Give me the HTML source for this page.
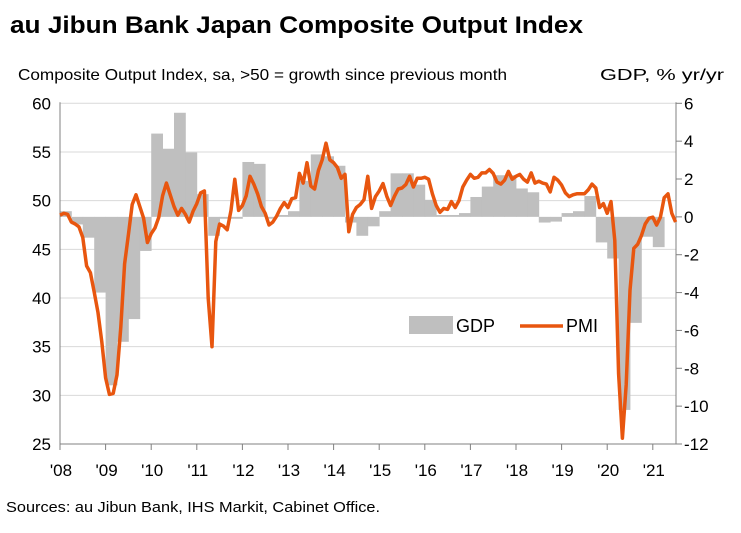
<!DOCTYPE html>
<html><head><meta charset="utf-8"><style>
body{margin:0;background:#fff;width:741px;height:528px;overflow:hidden;font-family:"Liberation Sans",sans-serif}
</style></head><body>
<svg id="c" width="741" height="528" xmlns="http://www.w3.org/2000/svg">
<text x="10" y="33" font-size="24" font-weight="bold" fill="#000" textLength="573" lengthAdjust="spacingAndGlyphs">au Jibun Bank Japan Composite Output Index</text>
<text x="18" y="80" font-size="16" fill="#000" textLength="489" lengthAdjust="spacingAndGlyphs">Composite Output Index, sa, &gt;50 = growth since previous month</text>
<text x="600" y="80" font-size="16" fill="#000" textLength="124" lengthAdjust="spacingAndGlyphs">GDP, % yr/yr</text>
<text x="6" y="512" font-size="15" fill="#000" textLength="374" lengthAdjust="spacingAndGlyphs">Sources: au Jibun Bank, IHS Markit, Cabinet Office.</text>
<g id="grid"></g><g id="bars"></g><g id="axes"></g>
<path id="pmi" fill="none" stroke="#e8560f" stroke-width="3.5" stroke-linejoin="round"></path>
<rect x="409" y="316" width="44" height="18" fill="#bfbfbf"></rect>
<text x="456" y="332" font-size="18">GDP</text>
<line x1="520" y1="326" x2="563" y2="326" stroke="#e8560f" stroke-width="3.5"></line>
<text x="566" y="332" font-size="18">PMI</text>
</svg>
<script>
const leftTicks=[60,55,50,45,40,35,30,25];
const rightTicks=[6,4,2,0,-2,-4,-6,-8,-10,-12];
const yearLabels=["'08","'09","'10","'11","'12","'13","'14","'15","'16","'17","'18","'19","'20","'21"];
const gdp=[0.3,-0.4,-1.1,-4,-8.9,-6.6,-5.4,-1.8,4.4,3.6,5.5,3.4,1.2,-1.0,-0.1,-0.1,2.9,2.8,-0.1,0.1,0.3,1.9,3.3,3.2,2.7,-0.3,-1.0,-0.5,0.3,2.3,2.3,1.7,0.9,0.1,0.1,0.2,1.05,1.6,2.2,2.2,1.5,1.3,-0.3,-0.25,0.2,0.3,1.1,-1.35,-2.2,-10.2,-5.6,-1.05,-1.6];
const pmi=[48.5,48.7,48.6,47.8,47.6,47.3,46.2,43.3,42.6,40.6,38.5,35.5,
31.8,30.1,30.2,32.1,37,43.5,46.5,49.6,50.6,49.4,48.2,45.7,
46.6,47.2,48.3,50.5,51.8,50.6,49.4,48.5,49.2,48.6,47.8,48.9,
49.7,50.8,51,40,35,45.8,47.6,47.4,47,49,52.2,49,
49.5,50.5,52.5,51.7,50.7,49.4,48.7,47.5,47.8,48.4,49.2,49.8,
49.3,50.2,50.3,52.8,51.8,53.9,51.5,51.2,53.1,54.2,55.9,54.2,
53.9,53.4,52.3,52.7,46.8,48.6,49.3,49.6,50.1,52.5,49.2,50.4,
51,51.75,50.45,49.5,50.45,51.2,51.3,51.65,52.5,51.4,52.3,52.3,
52.4,52.2,50.7,49.5,48.8,49.2,49.1,49.9,49.3,50,51.4,52.1,
52.7,52.3,52.4,52.85,52.85,53.2,52.8,51.9,51.7,52.1,53,52.2,
52.5,52.7,52.2,51.9,52.85,51.8,52,51.8,51.7,50.9,52.4,52.1,
51.6,50.8,50.4,50.6,50.7,50.7,50.7,51.1,51.7,51.3,49.3,49.7,
48.7,49.9,45.9,32.2,25.6,31.1,40.8,45.1,45.5,46.4,47.6,48.2,
48.3,47.5,48.3,50.3,50.7,48.7,47.8];
const NS="http://www.w3.org/2000/svg";
const X0=60,X1=676,YT=103.3,YB=444,MPX=45.6/12;
const xm=m=>X0+m*MPX;
const yL=v=>YT+(60-v)*(YB-YT)/35;
const yR=v=>YT+(6-v)*(YB-YT)/18;
function mk(tag,attrs,parent){const e=document.createElementNS(NS,tag);for(const k in attrs)e.setAttribute(k,attrs[k]);parent.appendChild(e);return e;}
const grid=document.getElementById('grid'),axes=document.getElementById('axes'),bars=document.getElementById('bars');
leftTicks.forEach(v=>{
 if(v!==25){const g=mk('line',{x1:X0,x2:X1,y1:yL(v),y2:yL(v),stroke:'#d9d9d9','stroke-width':1},grid);
 
 }
 const t=mk('text',{x:51,y:yL(v)+6,'font-size':17,'text-anchor':'end'},axes);t.textContent=v;
 
 
});
rightTicks.forEach(v=>{
 const l=mk('line',{x1:X1,x2:X1+6,y1:yR(v),y2:yR(v),stroke:'#808080'},axes);
 
 
 const t=mk('text',{x:684,y:yR(v)+6,'font-size':17},axes);t.textContent=v;
 
 
});
gdp.forEach((v,q)=>{
 const x=xm(q*3),w=3*MPX,y0=yR(0),y1=yR(v);
 const r=mk('rect',{x:x,y:Math.min(y0,y1),width:w+0.4,height:Math.abs(y1-y0),fill:'#bfbfbf'},bars);
 
 
});
let a1=mk('line',{x1:X0,x2:X0,y1:YT-1,y2:YB,stroke:'#808080'},axes);

let a2=mk('line',{x1:X1,x2:X1,y1:YT-1,y2:YB,stroke:'#808080'},axes);

let a3=mk('line',{x1:X0,x2:X1,y1:YB,y2:YB,stroke:'#808080'},axes);

yearLabels.forEach((s,i)=>{
 const x=xm(i*12);
 const l=mk('line',{x1:x,x2:x,y1:YB,y2:YB+6,stroke:'#808080'},axes);
 
 
 const t=mk('text',{x:x+1,y:476,'font-size':17,'text-anchor':'middle'},axes);t.textContent=s;
 
 
});
let d='';pmi.forEach((v,i)=>{d+=(i?'L':'M')+xm(i).toFixed(1)+','+yL(v).toFixed(1);});
document.getElementById('pmi').setAttribute('d',d);
</script>
</body></html>
